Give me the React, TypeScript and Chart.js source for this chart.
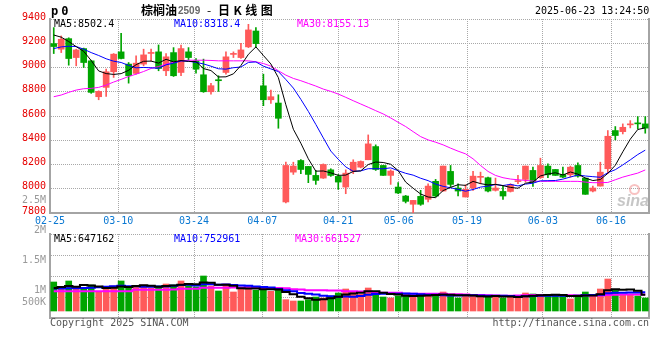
import React, { useEffect, useRef } from 'react';
import { Chart, registerables } from 'chart.js';

Chart.register(...registerables);

// ---------------- data ----------------
const DATES = ['02-25','02-26','02-27','02-28','03-03','03-04','03-05','03-06','03-07','03-10','03-11','03-12','03-13','03-14','03-17','03-18','03-19','03-20','03-21','03-24','03-25','03-26','03-27','03-28','03-31','04-01','04-02','04-03','04-07','04-08','04-09','04-10','04-11','04-14','04-15','04-16','04-17','04-18','04-21','04-22','04-23','04-24','04-25','04-28','04-29','04-30','05-06','05-07','05-08','05-09','05-12','05-13','05-14','05-15','05-16','05-19','05-20','05-21','05-22','05-23','05-26','05-27','05-28','05-29','05-30','06-03','06-04','06-05','06-06','06-09','06-10','06-11','06-12','06-13','06-16','06-17','06-18','06-19','06-20','06-23'];

const LABEL_DATES = ['02-25','03-10','03-24','04-07','04-21','05-06','05-19','06-03','06-16'];

const OPEN = [9197,9151,9238,9082,9156,9055,8759,8836,8965,9129,
  9028,8951,9028,9116,9129,8973,9123,8959,9129,9055,
  8940,8800,8893,8959,9108,9082,9170,9301,8849,8734,
  8707,7891,8137,8233,8184,8110,8088,8156,8102,8014,
  8146,8178,8239,8348,8192,8110,8014,7940,7872,7937,
  7913,8061,7981,8143,8006,7932,8006,8094,8091,7987,
  7978,7978,8059,8077,8151,8091,8187,8159,8118,8115,
  8192,8088,7981,8022,8165,8480,8471,8527,8537,8535];

const HIGH = [9329,9260,9245,9151,9160,9060,8808,8986,9115,9282,
  9041,9096,9151,9151,9186,9115,9164,9184,9164,9074,
  9069,8870,8932,9129,9129,9200,9356,9329,8945,8814,
  8775,8219,8219,8240,8184,8151,8205,8165,8118,8156,
  8239,8230,8444,8362,8192,8156,8050,7945,7904,7987,
  8041,8077,8187,8192,8041,8033,8143,8137,8096,8088,
  8022,8041,8110,8187,8178,8252,8206,8159,8178,8187,
  8214,8088,8022,8219,8480,8513,8535,8562,8595,8595];

const LOW = [9115,9123,9019,9014,9000,8787,8734,8762,8918,9070,
  8871,8945,9014,9055,8973,8932,8926,8932,9060,8954,
  8795,8781,8803,8945,9082,9075,9164,9164,8685,8704,
  8499,7883,8118,8124,8050,8036,8085,8102,7995,7959,
  8124,8172,8239,8151,8110,8036,7959,7883,7800,7863,
  7891,7932,7981,8014,7940,7932,7987,8041,7973,7981,
  7913,7973,8041,8055,8020,8085,8091,8110,8091,8096,
  8096,7954,7973,8022,8124,8403,8452,8502,8493,8458];

const CLOSE = [9173,9233,9074,9145,9041,8795,8803,8965,9110,9074,
  8932,9036,9104,9118,8992,9088,8932,9156,9082,8986,
  8800,8850,8891,9088,9110,9145,9310,9197,8734,8759,
  8581,8192,8187,8159,8118,8069,8200,8110,8055,8129,
  8219,8225,8370,8159,8110,8146,7965,7896,7904,7872,
  8022,7940,8187,8036,7981,7995,8104,8096,7981,8006,
  7940,8033,8061,8187,8055,8192,8115,8110,8096,8178,
  8104,7954,8006,8137,8433,8439,8507,8529,8535,8500];

const MA5 = [9268,9250,9214,9172,9133.2,9057.6,8971.6,8949.8,8942.8,8949.4,
  8976.8,9023.4,9051.2,9052.8,9036.4,9067.6,9046.8,9057.2,9050,9048.8,
  8991.2,8974.8,8921.8,8923,8947.8,9016.8,9108.8,9170,9099.2,9029,
  8916.2,8692.6,8490.6,8375.6,8247.4,8145,8146.6,8131.2,8110.4,8112.6,
  8142.6,8147.6,8199.6,8220.4,8216.6,8202,8150,8055.2,8004.2,7956.6,
  7931.8,7926.8,7985,8011.4,8033.2,8027.8,8060.6,8042.4,8031.4,8036.4,
  8025.4,8011.2,8004.2,8045.4,8055.2,8105.6,8122,8131.8,8113.6,8138.2,
  8120.6,8088.4,8067.6,8075.8,8126.8,8193.8,8304.4,8409,8488.6,8502.4];

const MA10 = [9156,9170,9175,9173,9151,9123,9099,9072,9052,9041.3,
  9017.2,8997.5,9000.5,8997.8,8992.9,9022.2,9035.1,9054.2,9051.4,9042.6,
  9029.4,9010.8,8989.5,8986.5,8998.3,9004,9041.8,9045.9,9011.1,8988.4,
  8966.5,8900.7,8830.3,8737.4,8638.2,8530.6,8419.6,8310.9,8243,8180,
  8143.8,8147.1,8165.4,8165.4,8164.6,8172.3,8148.8,8127.4,8112.3,8086.6,
  8066.9,8038.4,8020.1,8007.8,7994.9,7979.8,7993.7,8013.7,8021.4,8034.8,
  8026.6,8035.9,8023.3,8038.4,8045.8,8065.5,8066.6,8068,8079.5,8096.7,
  8113.1,8105.2,8099.7,8094.7,8132.5,8157.2,8196.4,8238.3,8282.2,8318.4];

const MA30 = [8759,8773,8795,8814,8825,8828,8836,8855,8880,8902,
  8926,8945,8967,8992,9008,9027,9044,9055,9060,9060,
  9060,9058,9055,9055,9055,9055,9055,9047,9033,9011,
  8973,8937,8910,8891,8869,8847,8822,8803,8781,8754,
  8726,8699,8672,8644,8617,8584,8548,8513,8471,8430,
  8403,8384,8362,8335,8310,8288,8247,8192,8143,8110,
  8091,8080,8074,8069,8063,8061,8061,8061,8061,8061,
  8061,8055,8050,8050,8052,8074,8096,8113,8129,8155.13];

const VOLUME = [1160000,960000,1200000,960000,933000,1040000,787000,893000,1000000,1200000,
  933000,960000,1040000,920000,1000000,1080000,1040000,1200000,1080000,960000,
  1400000,1000000,800000,1080000,760000,893000,960000,827000,893000,787000,
  827000,453000,400000,400000,453000,560000,520000,600000,720000,880000,
  760000,667000,920000,720000,560000,520000,600000,667000,640000,600000,
  600000,680000,760000,587000,520000,600000,640000,600000,560000,600000,
  520000,600000,520000,720000,680000,640000,640000,587000,640000,480000,
  640000,760000,587000,880000,1280000,827000,667000,667000,600000,520000];

const VMA5 = [920000,960000,1000000,970000,1042600,1018600,984000,922600,930600,984000,
  962600,997200,1026600,1010600,970600,1000000,1016000,1048000,1080000,1072000,
  1136000,1128000,1048000,1048000,1008000,906600,898600,904000,866600,872000,
  858800,757400,672000,573400,506600,453200,466600,506600,570600,656000,
  696000,725400,789400,789400,725400,677400,664000,613400,597400,605400,
  621400,637400,656000,645400,629400,629400,621400,589400,584000,600000,
  584000,576000,560000,592000,608000,632000,640000,653400,637400,597400,
  597400,621400,621400,669400,829400,866800,848200,864200,808200,647162];

const VMA10 = [900000,905000,910000,915000,925000,935000,950000,970000,990000,1013300,
  990600,990600,974600,970600,977300,981300,1006600,1037300,1045300,1021300,
  1068000,1072000,1048000,1064000,1040000,1021300,1013300,976000,957300,940000,
  882700,828000,788000,720000,689300,656000,612000,589300,572000,581300,
  574600,596000,648000,680000,690700,686700,694700,701400,693400,665400,
  649400,650700,634700,621400,617400,625400,629400,622700,614700,614700,
  606700,598700,574700,588000,604000,608000,608000,606700,614700,602700,
  614700,630700,637400,653400,713400,732100,734800,742800,738800,752961];

const VMA30 = [790000,790000,788000,786000,786000,787000,788000,790000,790000,792000,
  795000,850000,852000,853000,855000,855000,856000,890000,893000,895000,
  930000,932000,934000,935000,936000,940000,955000,950000,925000,922000,
  920000,915000,870000,865000,830000,828000,826000,824000,820000,790000,
  787000,785000,780000,740000,735000,733000,730000,690000,688000,688000,
  690000,690000,690000,674000,666000,656000,645000,638000,627000,621000,
  610000,615000,619000,630000,637000,640000,644000,644000,641000,628000,
  624000,627000,616000,621000,645000,655000,657000,657000,656000,661527];

const PRICE_MIN = 7800;
const PRICE_MAX = 9400;
const PRICE_STEP = 200;

const VOL_AXIS_LABELS = ['500K', '1M', '1.5M', '2M', '2.5M'];
const VOL_AXIS_VALUES = [500000, 1000000, 1500000, 2000000, 2500000];

const PRICE_LEGEND = ['MA5:8502.4', 'MA10:8318.4', 'MA30:8155.13'];
const VOL_LEGEND = ['MA5:647162', 'MA10:752961', 'MA30:661527'];

// ---------------- styles ----------------
const MONO = '"DejaVu Sans Mono", "Liberation Mono", monospace';
const RED = '#ff5a5a';
const GREEN = '#00a500';
const GRID = '#a8a8a8';
const AXIS = '#a4a4a4';
const DATE_BLUE = '#0a78d2';
const LINE_COLORS = ['#000000', '#0000ff', '#ff00ff'];

const LABEL_IDX = LABEL_DATES.map((d) => DATES.indexOf(d));
const CANDLE_COLORS = CLOSE.map((c, i) => (c >= OPEN[i] ? RED : GREEN));

const baseScaleFont = { family: MONO, size: 10 };

function dateGridAxis(showLabels: boolean) {
  return {
    type: 'linear',
    position: 'bottom',
    offset: false,
    min: 0,
    max: DATES.length - 1,
    afterBuildTicks: (s: any) => {
      s.ticks = LABEL_IDX.map((v) => ({ value: v }));
    },
    afterFit: (s: any) => {
      s.height = showLabels ? 20 : 0;
    },
    grid: { color: GRID, lineWidth: 1, drawTicks: false, offset: false },
    border: { display: true, color: AXIS, width: 2, dash: [1, 1] },
    ticks: {
      display: showLabels,
      autoSkip: false,
      maxRotation: 0,
      padding: 2,
      color: DATE_BLUE,
      font: baseScaleFont,
      callback: (v: number) => DATES[Math.round(v)],
    },
  };
}

function rightBorderAxis() {
  return {
    type: 'linear',
    position: 'right',
    display: true,
    grid: { display: false, drawTicks: false },
    ticks: { display: false },
    border: { display: true, color: AXIS, width: 2 },
    afterFit: (s: any) => {
      s.width = 0;
    },
  };
}

const volLabelPlugin = {
  id: 'volAxisLabels',
  afterDraw(chart: any) {
    const s = chart.scales.yl;
    const { ctx, chartArea } = chart;
    ctx.save();
    ctx.font = `10px ${MONO}`;
    ctx.fillStyle = '#9a9a9a';
    ctx.textAlign = 'right';
    ctx.textBaseline = 'middle';
    VOL_AXIS_VALUES.forEach((v, k) => {
      const y = Math.min(s.getPixelForValue(v), chartArea.bottom - 16);
      ctx.fillText(VOL_AXIS_LABELS[k], chartArea.left - 4, y);
    });
    ctx.restore();
  },
};

function lineDs(label: string, data: number[], color: string, width: number, stepped: any) {
  return {
    type: 'line',
    label,
    data,
    borderColor: color,
    borderWidth: width,
    pointRadius: 0,
    tension: 0,
    stepped,
    order: 0,
    xAxisID: 'x',
    yAxisID: 'y',
  };
}

function priceConfig(): any {
  return {
    type: 'bar',
    data: {
      labels: DATES,
      datasets: [
        lineDs('MA5', MA5, LINE_COLORS[0], 1, false),
        lineDs('MA10', MA10, LINE_COLORS[1], 1, false),
        lineDs('MA30', MA30, LINE_COLORS[2], 1, false),
        {
          type: 'bar',
          label: 'body',
          data: OPEN.map((o, i) => [o, CLOSE[i]]),
          backgroundColor: CANDLE_COLORS,
          barThickness: 6,
          minBarLength: 1,
          grouped: false,
          order: 1,
        },
        {
          type: 'bar',
          label: 'wick',
          data: LOW.map((l, i) => [l, HIGH[i]]),
          backgroundColor: CANDLE_COLORS,
          barThickness: 1,
          grouped: false,
          order: 2,
        },
      ],
    },
    options: {
      responsive: false,
      animation: false,
      events: [],
      layout: { padding: { left: 0, top: 19, right: 11, bottom: 127 } },
      plugins: { legend: { display: false }, tooltip: { enabled: false } },
      scales: {
        x: { type: 'category', display: false, offset: true },
        xg: dateGridAxis(true),
        y: {
          type: 'linear',
          position: 'left',
          min: PRICE_MIN,
          max: PRICE_MAX,
          afterFit: (s: any) => {
            s.width = 50;
          },
          grid: { color: GRID, lineWidth: 1, drawTicks: false },
          border: { display: true, color: AXIS, width: 2, dash: [1, 1] },
          ticks: {
            stepSize: PRICE_STEP,
            color: '#e60000',
            font: baseScaleFont,
            padding: 4,
            labelOffset: -2,
            callback: (v: number) => String(v),
          },
        },
        yr: rightBorderAxis(),
      },
    },
  };
}

function volConfig(): any {
  return {
    type: 'bar',
    data: {
      labels: DATES,
      datasets: [
        lineDs('VMA5', VMA5, LINE_COLORS[0], 2, 'middle'),
        lineDs('VMA10', VMA10, LINE_COLORS[1], 2, 'middle'),
        lineDs('VMA30', VMA30, LINE_COLORS[2], 2, 'middle'),
        {
          type: 'bar',
          label: 'volume',
          data: VOLUME,
          backgroundColor: CANDLE_COLORS,
          barThickness: 6,
          grouped: false,
          order: 1,
        },
      ],
    },
    options: {
      responsive: false,
      animation: false,
      events: [],
      layout: { padding: { left: 0, top: 234, right: 11, bottom: 42 } },
      plugins: { legend: { display: false }, tooltip: { enabled: false } },
      scales: {
        x: { type: 'category', display: false, offset: true },
        xg: dateGridAxis(false),
        y: {
          type: 'linear',
          position: 'left',
          min: -280000,
          max: 3080000,
          afterBuildTicks: (s: any) => {
            const n = 4;
            s.ticks = Array.from({ length: n + 1 }, (_, k) => ({ value: s.min + ((s.max - s.min) * k) / n }));
          },
          afterFit: (s: any) => {
            s.width = 50;
          },
          grid: { color: GRID, lineWidth: 1, drawTicks: false },
          border: { display: true, color: AXIS, width: 2, dash: [1, 1] },
          ticks: { display: false },
        },
        yl: {
          type: 'linear',
          position: 'left',
          display: true,
          min: 545000,
          max: 1945000,
          grid: { display: false, drawTicks: false },
          border: { display: false },
          ticks: { display: false },
          afterFit: (s: any) => {
            s.width = 0;
          },
        },
        yr: rightBorderAxis(),
      },
    },
    plugins: [volLabelPlugin],
  };
}

const textBase: React.CSSProperties = {
  position: 'absolute',
  font: `10px ${MONO}`,
  lineHeight: '12px',
  whiteSpace: 'pre',
};

export default function App() {
  const priceRef = useRef<HTMLCanvasElement>(null);
  const volRef = useRef<HTMLCanvasElement>(null);

  useEffect(() => {
    const pc = new Chart(priceRef.current as HTMLCanvasElement, priceConfig());
    const vc = new Chart(volRef.current as HTMLCanvasElement, volConfig());
    return () => {
      pc.destroy();
      vc.destroy();
    };
  }, []);

  const legendLeftPrice = [54, 174, 297];
  const legendLeftVol = [54, 174, 295];

  return (
    <div style={{ position: 'fixed', left: 0, top: 0, width: 660, height: 360, background: '#fff', overflow: 'hidden' }}>
      <canvas ref={priceRef} width={660} height={360} style={{ position: 'absolute', left: 0, top: 0 }} />
      <canvas ref={volRef} width={660} height={360} style={{ position: 'absolute', left: 0, top: 0 }} />

      {/* header */}
      <div style={{ ...textBase, left: 51, top: 4, font: `bold 12px ${MONO}`, lineHeight: '14px', letterSpacing: '3px', color: '#000' }}>p0</div>
      <div style={{ position: 'absolute', left: 141, top: 3, lineHeight: '14px', whiteSpace: 'pre', color: '#000', fontFamily: '"Noto Sans CJK SC", sans-serif', fontSize: 12, fontWeight: 'bold' }}>棕榈油</div>
      <div style={{ position: 'absolute', left: 178, top: 4, lineHeight: '14px', whiteSpace: 'pre', color: '#666', fontFamily: '"Liberation Sans", sans-serif', fontSize: 10, fontWeight: 'bold' }}>2509</div>
      <div style={{ position: 'absolute', left: 207, top: 3, lineHeight: '14px', whiteSpace: 'pre', color: '#000', fontFamily: '"Noto Sans CJK SC", sans-serif', fontSize: 12 }}>-</div>
      <div style={{ position: 'absolute', left: 218, top: 3, lineHeight: '14px', whiteSpace: 'pre', color: '#000', fontFamily: '"Noto Sans CJK SC", sans-serif', fontSize: 12, fontWeight: 'bold', letterSpacing: '3.5px' }}>日K线图</div>
      <div style={{ ...textBase, left: 535, top: 5, color: '#000' }}>2025-06-23 13:24:50</div>

      {/* price legend */}
      {PRICE_LEGEND.map((t, k) => (
        <div key={'pl' + k} style={{ ...textBase, left: legendLeftPrice[k], top: 18, color: LINE_COLORS[k] }}>{t}</div>
      ))}
      {/* volume legend */}
      {VOL_LEGEND.map((t, k) => (
        <div key={'vl' + k} style={{ ...textBase, left: legendLeftVol[k], top: 233, color: LINE_COLORS[k] }}>{t}</div>
      ))}

      {/* watermark */}
      <div style={{ position: 'absolute', left: 629, top: 184, width: 7, height: 7, borderRadius: '50%', border: '2px solid rgba(240,120,120,0.45)' }} />
      <div style={{ position: 'absolute', left: 617, top: 193, lineHeight: '16px', fontFamily: '"Liberation Sans", sans-serif', fontSize: 16, fontWeight: 'bold', fontStyle: 'italic', color: 'rgba(160,160,160,0.6)' }}>sina</div>

      {/* footer */}
      <div style={{ ...textBase, left: 50, top: 317, color: '#555' }}>Copyright 2025 SINA.COM</div>
      <div style={{ ...textBase, right: 11, top: 317, color: '#555' }}>http://finance.sina.com.cn</div>
    </div>
  );
}
